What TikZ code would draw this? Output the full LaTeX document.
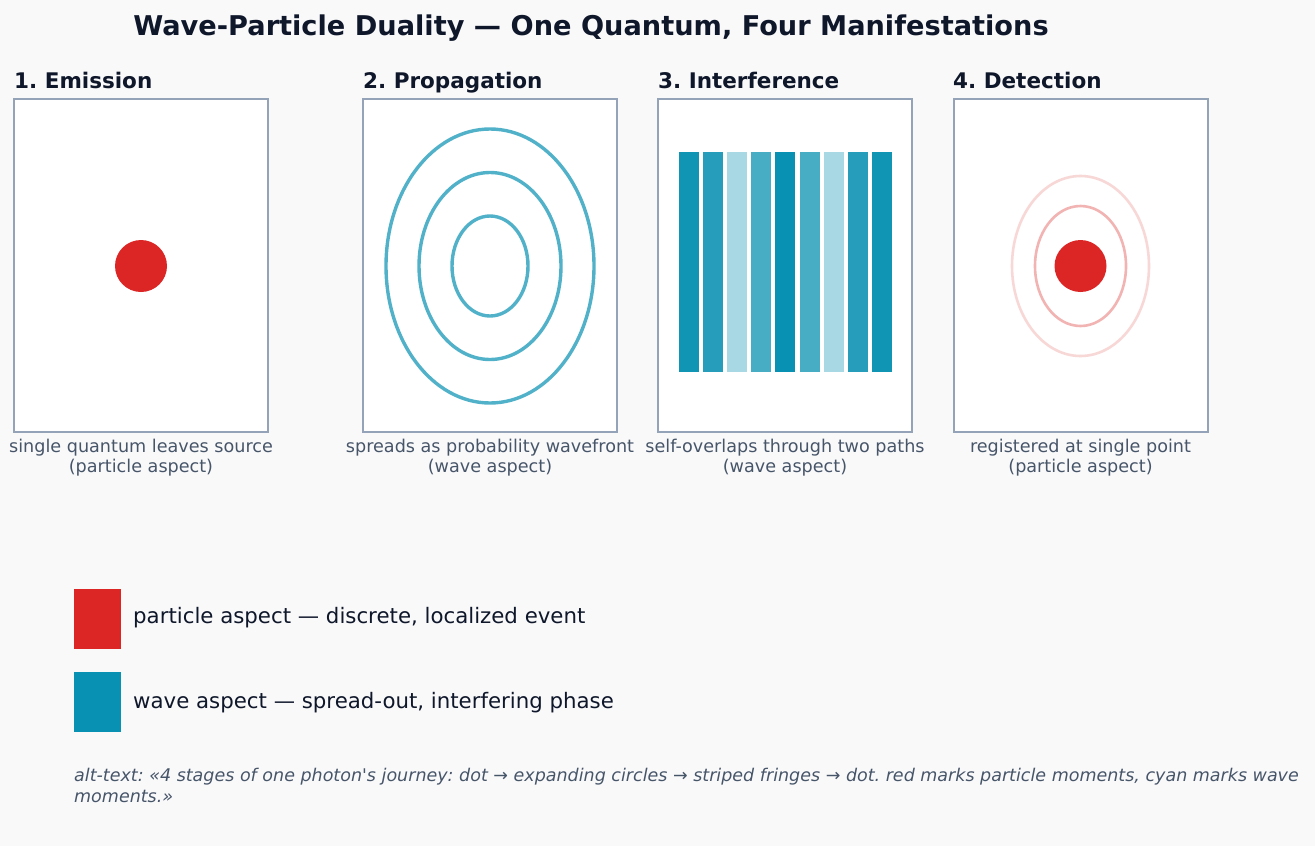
\documentclass[tikz,border=0pt]{standalone}
\usepackage{fontspec}
\setmainfont{DejaVu Sans}
\usetikzlibrary{calc}
\definecolor{bgcol}{HTML}{F9F9FA}
\definecolor{ink}{HTML}{0F172A}
\definecolor{slate}{HTML}{475569}
\definecolor{frame}{HTML}{94A3B8}
\definecolor{particle}{HTML}{DC2626}
\definecolor{wave}{HTML}{0891B2}
\frenchspacing

\begin{document}
\begin{tikzpicture}[x=1pt,y=-1pt]
	\tikzstyle{panel} = [draw=frame, line width=2pt, fill=white, minimum width=254pt, minimum height=333pt, inner sep=0pt]
	\tikzstyle{heading} = [anchor=base west, inner sep=0pt, text=ink, font=\fontsize{21.5}{26}\selectfont\bfseries]
	\tikzstyle{caption} = [anchor=north, inner sep=0pt, align=center, text=slate, font=\fontsize{17.6}{20}\selectfont]
	\tikzstyle{dot} = [circle, fill=particle, inner sep=0pt, minimum size=52pt]
	\tikzstyle{ring} = [draw=wave, draw opacity=.7, line width=3.4pt]
	\tikzstyle{echo} = [draw=particle, line width=2.6pt]
	\tikzstyle{fringe} = [fill=wave, minimum width=20pt, minimum height=220pt, inner sep=0pt]
	\tikzstyle{swatch} = [minimum width=47pt, minimum height=60pt, inner sep=0pt]
	\tikzstyle{legend} = [anchor=base west, inner sep=0pt, text=ink, font=\fontsize{21.3}{25}\selectfont]
	\fill[bgcol] (0,0) rectangle (1315,846);
	\useasboundingbox (0,0) rectangle (1315,846);
	\coordinate (P1) at (141,265.5);
	\coordinate (P2) at (490,265.5);
	\coordinate (P3) at (785,265.5);
	\coordinate (P4) at (1080.5,265.5);
	\node[anchor=base, inner sep=0pt, text=ink, font=\fontsize{27.2}{32}\selectfont\bfseries] (title) at (591,35) {Wave-Particle Duality — One Quantum, Four Manifestations};
	\node[panel] (box1) at (P1) {};
	\node[panel] (box2) at (P2) {};
	\node[panel] (box3) at (P3) {};
	\node[panel] (box4) at (P4) {};
	\node[heading] (head1) at (14,88.5) {1. Emission};
	\node[heading] (head2) at (363,88.5) {2. Propagation};
	\node[heading] (head3) at (658,88.5) {3. Interference};
	\node[heading] (head4) at (953,88.5) {4. Detection};
	\node[dot] (src) at (141,266) {};
	\draw[ring] (490,266) ellipse [x radius=104, y radius=137];
	\draw[ring] (490,266) ellipse [x radius=71, y radius=93.5];
	\draw[ring] (490,266) ellipse [x radius=38, y radius=50];
	\foreach \i/\op in {0/.96,1/.88,2/.35,3/.74,4/1,5/.74,6/.35,7/.88,8/.96}
		\node[fringe, fill opacity=\op] (fringe\i) at ({689+24.1*\i},262) {};
	\draw[echo, draw opacity=.18] (1080.5,266) ellipse [x radius=68.5, y radius=90];
	\draw[echo, draw opacity=.35] (1080.5,266) ellipse [x radius=45.5, y radius=60];
	\node[dot] (hit) at (1080.5,266) {};
	\node[caption] (cap1) at (141,439) {single quantum leaves source\\(particle aspect)};
	\node[caption] (cap2) at (490,439) {spreads as probability wavefront\\(wave aspect)};
	\node[caption] (cap3) at (785,439) {self-overlaps through two paths\\(wave aspect)};
	\node[caption] (cap4) at (1080.5,439) {registered at single point\\(particle aspect)};
	\node[swatch, fill=particle] (key1) at (97.5,619) {};
	\node[swatch, fill=wave] (key2) at (97.5,702) {};
	\node[legend] (lab1) at (133,623) {particle aspect — discrete, localized event};
	\node[legend] (lab2) at (133,708) {wave aspect — spread-out, interfering phase};
	\node[anchor=north west, inner sep=0pt, align=left, text=slate, font=\fontsize{17.5}{21.5}\selectfont\itshape] (alt) at (74,767.5) {alt-text: «4 stages of one photon\textquotesingle s journey: dot → expanding circles → striped fringes → dot. red marks particle moments, cyan marks wave\\moments.»};
\end{tikzpicture}
\end{document}
